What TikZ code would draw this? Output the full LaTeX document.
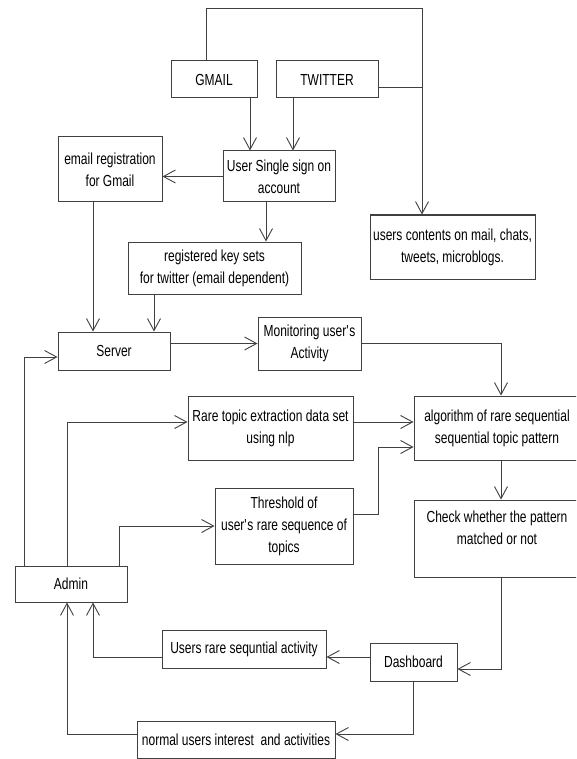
\documentclass[tikz,border=0pt]{standalone}
\usepackage{fontspec}
\setmainfont[FakeStretch=0.75]{Liberation Sans}
\usetikzlibrary{arrows.meta}

\begin{document}
\begin{tikzpicture}[x=1pt, y=-1pt,
    blk/.style={draw=black!75, line width=1pt, rectangle, align=center, inner sep=1pt,
      font=\fontsize{16}{22}\selectfont},
    flow/.style={draw=black!75, line width=0.9pt,
      -{Straight Barb[length=12pt, width=13pt, line width=0.9pt]}},
    ln/.style={draw=black!75, line width=0.9pt}]
  \useasboundingbox (0,0) rectangle (576,759);
  \clip (0,0) rectangle (576,759);
  \fill[white] (0,0) rectangle (576,759);

  % sources
  \node[blk, minimum width=86pt, minimum height=37pt] (gmail) at (214,79.5) {GMAIL};
  \node[blk, minimum width=102pt, minimum height=37pt] (twitter) at (327,79.5) {TWITTER};
  \node[blk, minimum width=112pt, minimum height=51pt] (sso) at (279,176.5) {User Single sign on\\account};
  \node[blk, minimum width=104pt, minimum height=65pt] (gmailreg) at (110,169.5) {email registration\\for Gmail};
  \node[blk, minimum width=165pt, minimum height=64pt] (contents) at (452.5,247) {users contents on mail, chats,\\tweets, microblogs.};
  \node[blk, minimum width=173pt, minimum height=52pt] (keysets) at (214.5,268) {registered key sets\\for twitter (email dependent)};
  \node[blk, minimum width=112pt, minimum height=38pt] (server) at (114,351) {Server};
  \node[blk, minimum width=103pt, minimum height=53pt] (monitor) at (309.5,343.5) {Monitoring user\textquotesingle s\\Activity};

  % mining part
  \node[blk, minimum width=165pt, minimum height=64pt] (raretopic) at (270.5,428) {Rare topic extraction data set\\using nlp};
  \node[blk, minimum width=166pt, minimum height=64pt] (algo) at (497,428) {algorithm of rare sequential\\sequential topic pattern};
  \node[blk, minimum width=138pt, minimum height=76pt] (thresh) at (284,526) {Threshold of\\user\textquotesingle s rare sequence of\\topics};
  \node[blk, minimum width=166pt, minimum height=77pt] (check) at (497,538.5) {Check whether the pattern\\matched or not\\\mbox{}};
  \node[blk, minimum width=112pt, minimum height=36pt] (admin) at (71,584) {Admin};
  \node[blk, minimum width=164pt, minimum height=38pt] (rareact) at (244,649) {Users rare sequntial activity};
  \node[blk, minimum width=87pt, minimum height=38pt] (dash) at (413.5,662) {Dashboard};
  \node[blk, minimum width=198pt, minimum height=37pt] (normal) at (236,739.5) {normal users interest~ and activities};

  \coordinate (topL) at (206,8);
  \coordinate (topR) at (422,8);
  \coordinate (thrBend) at (378,447);

  \draw[flow] (gmail.north -| topL) -- (topL) -- (topR) -- (topR |- contents.north);
  \draw[ln] ([yshift=-7.5pt]twitter.east) -- ([yshift=-7.5pt]twitter.east -| topR);
  \draw[flow] ([xshift=36pt]gmail.south) -- ([xshift=36pt]gmail.south |- sso.north);
  \draw[flow] ([xshift=-34pt]twitter.south) -- ([xshift=-34pt]twitter.south |- sso.north);
  \draw[flow] (sso.west) -- (sso.west -| gmailreg.east);
  \draw[flow] ([xshift=-13pt]sso.south) -- ([xshift=-13pt]sso.south |- keysets.north);
  \draw[flow] ([xshift=-17pt]gmailreg.south) -- ([xshift=-17pt]gmailreg.south |- server.north);
  \draw[flow] ([xshift=-60.5pt]keysets.south) -- ([xshift=-60.5pt]keysets.south |- server.north);
  \draw[flow] (server.east |- monitor.west) -- (monitor.west);
  \draw[flow] (monitor.east) -| ([xshift=4pt]algo.north);
  \draw[flow] ([yshift=6pt]raretopic.east) -- ([yshift=6pt]raretopic.east -| algo.west);
  \draw[flow] ([yshift=12pt]thresh.east) -| (thrBend) -- (thrBend -| algo.west);
  \draw[flow] ([xshift=4pt]algo.south) -- ([xshift=4pt]check.north);
  \draw[flow] ([xshift=4pt]check.south) |- ([yshift=-7pt]dash.east);
  \draw[flow] ([yshift=5pt]dash.west) -- ([yshift=5pt]dash.west -| rareact.east);
  \draw[flow] ([yshift=-8pt]rareact.west) -| ([xshift=22pt]admin.south);
  \draw[flow] (dash.south) |- ([yshift=5.5pt]normal.east);
  \draw[flow] ([yshift=5.5pt]normal.west) -| ([xshift=-4pt]admin.south);
  \draw[flow] ([xshift=-47pt]admin.north) |- ([yshift=-6pt]server.west);
  \draw[flow] ([xshift=-4pt]admin.north) |- ([yshift=6pt]raretopic.west);
  \draw[flow] ([xshift=48pt]admin.north) |- (thresh.west);
\end{tikzpicture}
\end{document}
